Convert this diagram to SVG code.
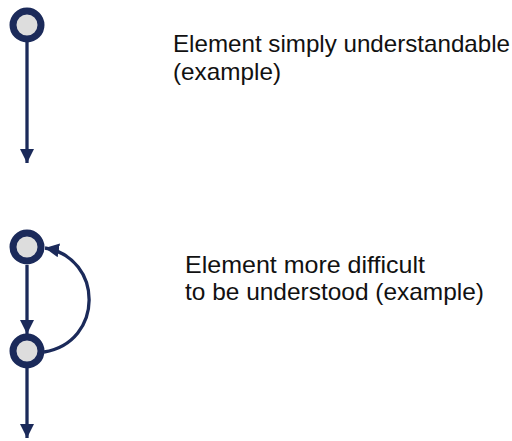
<svg xmlns="http://www.w3.org/2000/svg" width="512" height="441" viewBox="0 0 512 441">
<style>
.node{fill:#dddddd;stroke:#1b2a5a;stroke-width:7}
.edge{fill:none;stroke:#1b2a5a;stroke-width:3.3}
.lbl{font-family:"Liberation Sans",Arial,sans-serif;font-size:24px;fill:#111}
</style>
<defs>
<marker id="ah" viewBox="0 0 14 14" refX="14" refY="7" markerWidth="14" markerHeight="14" markerUnits="userSpaceOnUse" orient="auto">
<path d="M0,0 L14,7 L0,14 Z" fill="#1b2a5a"/>
</marker>
</defs>
<g id="connectors">
<line class="edge" x1="27" y1="42" x2="27" y2="163" marker-end="url(#ah)"/>
<line class="edge" x1="27" y1="265" x2="27" y2="334" marker-end="url(#ah)"/>
<line class="edge" x1="27" y1="368" x2="27" y2="438" marker-end="url(#ah)"/>
<path class="edge" d="M44,352 C104,342 104,258 45,248" marker-end="url(#ah)"/>
</g>
<g id="n1"><circle class="node" cx="27" cy="25" r="14"/></g>
<g id="n2"><circle class="node" cx="27" cy="247" r="14"/></g>
<g id="n3"><circle class="node" cx="27" cy="351" r="14"/></g>
<g id="t1"><text class="lbl" x="173" y="52" textLength="337" lengthAdjust="spacingAndGlyphs">Element simply understandable</text><text class="lbl" x="173" y="80" textLength="108" lengthAdjust="spacingAndGlyphs">(example)</text></g>
<g id="t2"><text class="lbl" x="185" y="273" textLength="240" lengthAdjust="spacingAndGlyphs">Element more difficult</text><text class="lbl" x="185" y="300" textLength="299" lengthAdjust="spacingAndGlyphs">to be understood (example)</text></g>
</svg>
